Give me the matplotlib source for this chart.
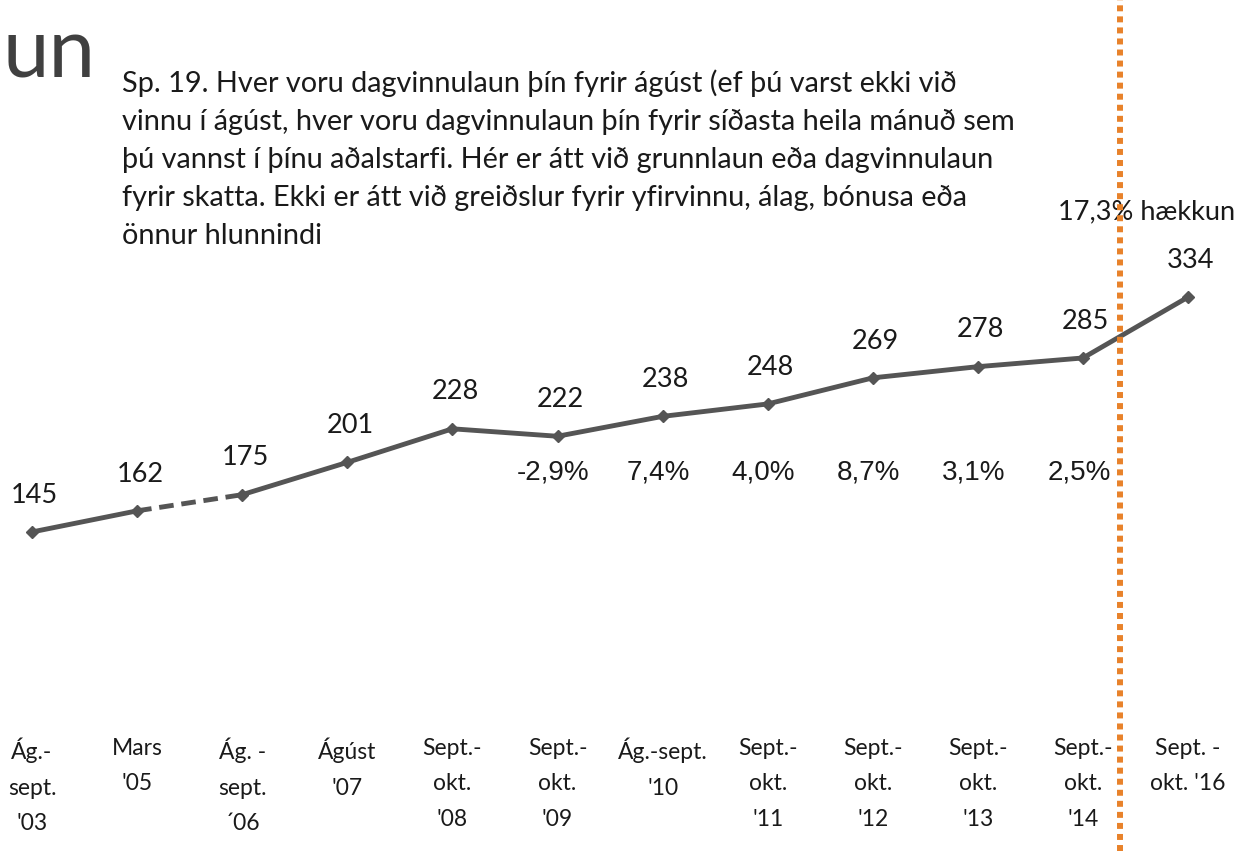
import matplotlib
matplotlib.use("Agg")
import matplotlib.pyplot as plt

# dagvinnulaun (þús. kr.) eftir könnunartíma
periods = ["Ág.-\nsept.\n'03", "Mars\n'05", "Ág. -\nsept.\n\u00b406", "Ágúst\n'07",
           "Sept.-\nokt.\n'08", "Sept.-\nokt.\n'09", "Ág.-sept.\n'10", "Sept.-\nokt.\n'11",
           "Sept.-\nokt.\n'12", "Sept.-\nokt.\n'13", "Sept.-\nokt.\n'14", "Sept. -\nokt. '16"]
laun = [145, 162, 175, 201, 228, 222, 238, 248, 269, 278, 285, 334]
breyting = ["-2,9%", "7,4%", "4,0%", "8,7%", "3,1%", "2,5%"]
breyting_idx = [5, 6, 7, 8, 9, 10]
haekkun = "17,3% hækkun"
split_at = 10.35  # milli '14 og '16

spurning = ("Sp. 19. Hver voru dagvinnulaun þín fyrir ágúst (ef þú varst ekki við\n"
            "vinnu í ágúst, hver voru dagvinnulaun þín fyrir síðasta heila mánuð sem\n"
            "þú vannst í þínu aðalstarfi. Hér er átt við grunnlaun eða dagvinnulaun\n"
            "fyrir skatta. Ekki er átt við greiðslur fyrir yfirvinnu, álag, bónusa eða\n"
            "önnur hlunnindi")

LINE = "#555555"
TXT = "#1a1a1a"
ORANGE = "#e8822a"
LAB = "Lato"

fig = plt.figure(figsize=(12.39, 8.55), dpi=100)
ax = fig.add_axes([0, 0, 1, 1])
ax.set_xlim(-0.3045, 11.484)
ax.set_ylim(-114.9, 573)
ax.axis("off")

x = list(range(len(laun)))
# solid except the gap 2005-2006, which is dashed
ax.plot(x[:2], laun[:2], color=LINE, lw=3.5, solid_capstyle="round", zorder=3)
ax.plot(x[1:3], laun[1:3], color=LINE, lw=3.5, ls=(0, (3, 1.6)), zorder=3)
ax.plot(x[2:], laun[2:], color=LINE, lw=3.5, solid_joinstyle="round", zorder=3)
ax.plot(x, laun, ls="none", marker="D", ms=6, color=LINE, zorder=4)

for i, v in enumerate(laun):
    ax.annotate(str(v), (i, v), xytext=(2, 26.5), textcoords="offset points",
                ha="center", va="center", fontsize=19.5, family=LAB, color=TXT)

for i, s in zip(breyting_idx, breyting):
    ax.text(i - 0.04, 0.447, s, transform=ax.get_xaxis_transform(), ha="center",
            va="center", fontsize=20, family="Liberation Sans", color=TXT)

for i, s in enumerate(periods):
    ax.text(i, 0.137, s, transform=ax.get_xaxis_transform(), ha="center", va="top",
            fontsize=16.5, family=LAB, color=TXT, linespacing=1.85)

ax.text(11.446, 0.752, haekkun, transform=ax.get_xaxis_transform(), ha="right",
        va="center", fontsize=19.5, family=LAB, color=TXT)

ax.axvline(split_at, ymin=0.005, ymax=1, color=ORANGE, lw=4.3,
           ls=(0, (1, 0.85)), dash_capstyle="butt", zorder=5)

fig.text(122 / 1239, 1 - 69 / 855, spurning, ha="left", va="top", fontsize=20.8,
         family=LAB, color=TXT, linespacing=1.57)
fig.text(0.002, 1 - 77 / 855, "un", ha="left", va="baseline", fontsize=60,
         family=LAB, color="#404040")

fig.savefig("out.png", dpi=100)
